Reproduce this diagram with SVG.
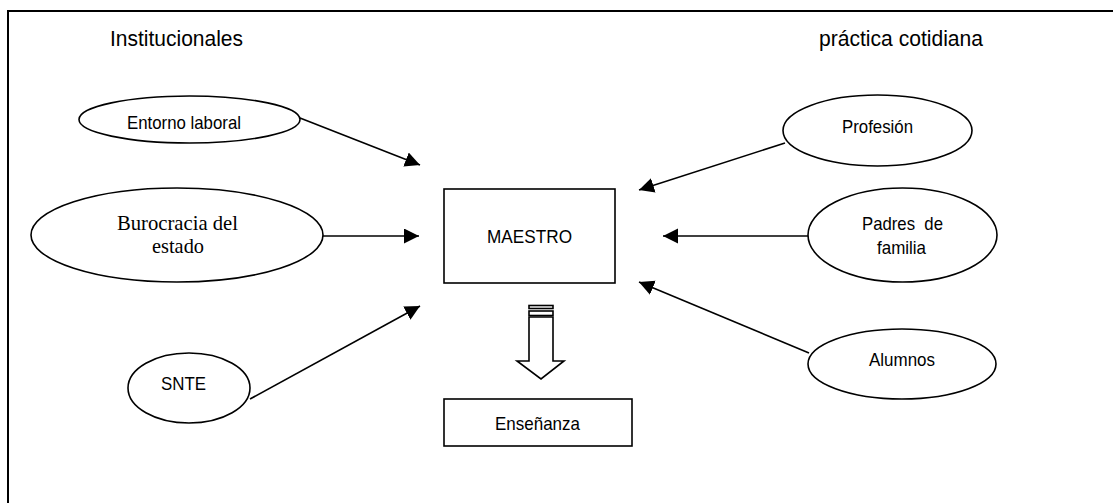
<svg xmlns="http://www.w3.org/2000/svg" width="1113" height="503" viewBox="0 0 1113 503">
<defs>
<style>
.shape{fill:#fff;stroke:#000;stroke-width:1.6}
.conn{fill:none;stroke:#000;stroke-width:1.6}
.frame{fill:none;stroke:#000;stroke-width:2}
.t{font-family:"Liberation Sans",Arial,sans-serif;font-size:19px;fill:#000}
.h{font-family:"Liberation Sans",Arial,sans-serif;font-size:22px;fill:#000}
.s{font-family:"Liberation Serif","Times New Roman",serif;font-size:21px;fill:#000}
</style>
<marker id="ah" markerUnits="userSpaceOnUse" markerWidth="16" markerHeight="16" viewBox="0 0 16 16" refX="15" refY="7.5" orient="auto">
<path d="M0,0 L15,7.5 L0,15 z" fill="#000"/>
</marker>
</defs>
<rect width="1113" height="503" fill="#fff"/>
<path class="frame" d="M8,503 L8,11 L1113,11"/>
<g id="titles">
<text class="h" x="110" y="45.5" textLength="133" lengthAdjust="spacingAndGlyphs">Institucionales</text>
<text class="h" x="819" y="45.5" textLength="164" lengthAdjust="spacingAndGlyphs">práctica cotidiana</text>
</g>
<g id="connectors">
<line class="conn" x1="300" y1="118" x2="420" y2="165" marker-end="url(#ah)"/>
<line class="conn" x1="323" y1="236" x2="419" y2="236" marker-end="url(#ah)"/>
<line class="conn" x1="250" y1="399" x2="420" y2="306" marker-end="url(#ah)"/>
<line class="conn" x1="785" y1="143" x2="639" y2="190" marker-end="url(#ah)"/>
<line class="conn" x1="808" y1="236" x2="663" y2="236" marker-end="url(#ah)"/>
<line class="conn" x1="809" y1="353" x2="639" y2="282" marker-end="url(#ah)"/>
</g>
<g id="entorno">
<ellipse class="shape" cx="189.5" cy="119.5" rx="110.5" ry="23.5"/>
<text class="t" x="127" y="129" textLength="114" lengthAdjust="spacingAndGlyphs">Entorno laboral</text>
</g>
<g id="burocracia">
<ellipse class="shape" cx="177" cy="235" rx="146" ry="47"/>
<text class="s" x="117" y="229.5" textLength="121" lengthAdjust="spacingAndGlyphs">Burocracia del</text>
<text class="s" x="152" y="253" textLength="52" lengthAdjust="spacingAndGlyphs">estado</text>
</g>
<g id="snte">
<ellipse class="shape" cx="189" cy="388" rx="61" ry="35"/>
<text class="t" x="161" y="390" textLength="45" lengthAdjust="spacingAndGlyphs">SNTE</text>
</g>
<g id="maestro">
<rect class="shape" x="444" y="189" width="171" height="94"/>
<text class="t" x="487" y="243" textLength="85" lengthAdjust="spacingAndGlyphs">MAESTRO</text>
</g>
<g id="flecha">
<rect class="shape" x="529" y="305.5" width="24" height="3"/>
<rect class="shape" x="529" y="311" width="24" height="4.5"/>
<polygon class="shape" points="529,317 553,317 553,361 564,361 541,379 517,361 529,361"/>
</g>
<g id="ensenanza">
<rect class="shape" x="444" y="399" width="188" height="47"/>
<text class="t" x="495" y="430" textLength="85" lengthAdjust="spacingAndGlyphs">Enseñanza</text>
</g>
<g id="profesion">
<ellipse class="shape" cx="877.5" cy="130.5" rx="94.5" ry="35.5"/>
<text class="t" x="842" y="133" textLength="71" lengthAdjust="spacingAndGlyphs">Profesión</text>
</g>
<g id="padres">
<ellipse class="shape" cx="902.5" cy="235" rx="94.5" ry="47"/>
<text class="t" x="862" y="229.5" textLength="81" lengthAdjust="spacingAndGlyphs" xml:space="preserve">Padres  de</text>
<text class="t" x="877" y="254" textLength="49" lengthAdjust="spacingAndGlyphs">familia</text>
</g>
<g id="alumnos">
<ellipse class="shape" cx="902" cy="364" rx="94" ry="35"/>
<text class="t" x="869" y="366" textLength="66" lengthAdjust="spacingAndGlyphs">Alumnos</text>
</g>
</svg>
